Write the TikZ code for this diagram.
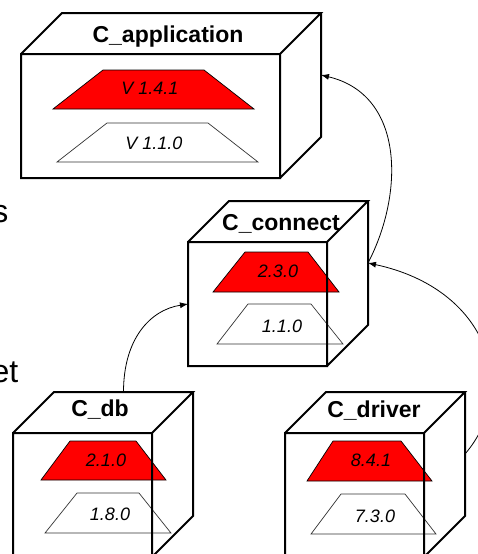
\documentclass[tikz,border=0pt]{standalone}
\usepackage{fontspec}
\setmainfont{Liberation Sans}
\usetikzlibrary{arrows.meta}
\begin{document}
\begin{tikzpicture}[x=1pt,y=-1pt,
  face/.style={fill=white,inner sep=0pt,outer sep=0pt,minimum width=139pt,minimum height=124pt,anchor=north west},
  backface/.style={inner sep=0pt,outer sep=0pt,minimum width=139pt,minimum height=124pt},
  wide/.style={minimum width=259pt},
  edge/.style={line width=2pt,line join=miter},
  title/.style={font=\bfseries\fontsize{23}{23}\selectfont,inner sep=0pt,anchor=base},
  ver/.style={font=\itshape\fontsize{18}{18}\selectfont,inner sep=0pt,anchor=base},
  newtrap/.style={fill=red,draw=black,line width=0.7pt},
  oldtrap/.style={fill=white,draw=black!80,line width=0.7pt},
  link/.style={line width=0.8pt,-{Latex[length=8pt,width=6pt]}},
  frag/.style={font=\fontsize{32}{32}\selectfont,inner sep=0pt,anchor=base east}]
\useasboundingbox (0,0) rectangle (478,554);
\clip (0,0) rectangle (478,554);
\fill[white] (0,0) rectangle (478,554);

% front faces of the component boxes
\node[face,wide] (app) at (21,54) {};
\node[face] (conn) at (188,242) {};
\node[face] (db) at (13,433) {};
\node[face] (drv) at (285,433) {};
% back faces, offset by the box depth
\node[backface,wide] (app-back) at ([shift={(41,-41)}]app.center) {};
\foreach \b in {conn,db,drv}
  \node[backface] (\b-back) at ([shift={(41,-41)}]\b.center) {};

% version trapezoids
\draw[newtrap] (103,70) -- (204,70) -- (254,109) -- (53,109) -- cycle;
\draw[oldtrap] (107,123) -- (208,123) -- (258,162) -- (57,162) -- cycle;
\draw[newtrap] (245,252) -- (308,252) -- (339,292) -- (213,292) -- cycle;
\draw[oldtrap] (248,304) -- (311,304) -- (343,344) -- (217,344) -- cycle;
\draw[newtrap] (70,441) -- (136,441) -- (166,480) -- (41,480) -- cycle;
\draw[oldtrap] (77,493) -- (139,493) -- (171,533) -- (45,533) -- cycle;
\draw[newtrap] (333,441) -- (401,441) -- (432,481) -- (307,481) -- cycle;
\draw[oldtrap] (341,494) -- (405,494) -- (436,534) -- (311,534) -- cycle;

% box outlines
\foreach \b in {app,conn,db,drv}
  \draw[edge] (\b.north west) rectangle (\b.south east)
    (\b.north west) -- (\b-back.north west) -- (\b-back.north east) -- (\b.north east)
    (\b-back.north east) -- (\b-back.south east) -- (\b.south east);

% titles
\node[title] (app-title) at (168,42) {C\_application};
\node[title] (conn-title) at (281,230) {C\_connect};
\node[title] (db-title) at (100,416) {C\_db};
\node[title] (drv-title) at (374,417) {C\_driver};

% versions
\node[ver] (app-new) at (150,94) {V 1.4.1};
\node[ver] (app-old) at (154,149) {V 1.1.0};
\node[ver] (conn-new) at (278,277) {2.3.0};
\node[ver] (conn-old) at (282,332) {1.1.0};
\node[ver] (db-new) at (106,466) {2.1.0};
\node[ver] (db-old) at (110,520) {1.8.0};
\node[ver] (drv-new) at (371,466) {8.4.1};
\node[ver] (drv-old) at (375,522) {7.3.0};

% dependencies
\draw[link] (conn-back.east) .. controls +(36,-69) and +(84,20) .. (app-back.east);
\draw[link] (drv-back.east) .. controls +(55,-64) and +(121,26) .. (conn-back.east);
\draw[link] (db-back.north) .. controls +(0,-53) and +(-38,6) .. (conn.west);

% text running in from the left edge
\node[frag] (frag-a) at (8.5,222) {s};
\node[frag] (frag-b) at (18.5,382) {et};
\end{tikzpicture}
\end{document}
